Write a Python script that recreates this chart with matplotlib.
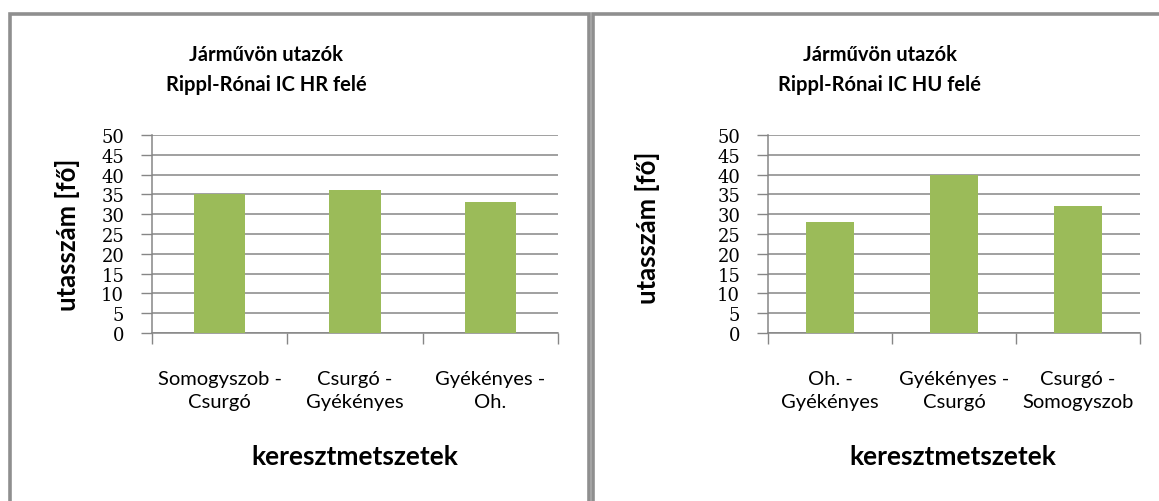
import matplotlib.pyplot as plt
from matplotlib.patches import Rectangle

W, H = 1159, 502

title_line1 = 'Járművön utazók'
left_title2 = 'Rippl-Rónai IC HR felé'
right_title2 = 'Rippl-Rónai IC HU felé'
left_cats = ['Somogyszob -\nCsurgó', 'Csurgó -\nGyékényes', 'Gyékényes -\nOh.']
left_vals = [35, 36, 33]
right_cats = ['Oh. -\nGyékényes', 'Gyékényes -\nCsurgó', 'Csurgó -\nSomogyszob']
right_vals = [28, 40, 32]
y_ticks = list(range(0, 55, 5))
y_label = 'utasszám [fő]'
x_label = 'keresztmetszetek'

BAR = '#9bbb59'
GRID = '#868686'
BORDER = '#8f8f8f'
SANS = 'Lato'
SERIF = 'DejaVu Serif'


def fx(px):
    return px / W


def fy(py):
    return 1 - py / H


def draw_panel(fig, box, ax_x0, ax_x1, cats, vals, title2, title_cx, xlab_cx, ylab_x, ylab_cy):
    # chart area frame
    bx0, by0, bx1, by1 = box
    fig.patches.append(Rectangle((fx(bx0), fy(by1)), fx(bx1 - bx0), (by1 - by0) / H,
                                 transform=fig.transFigure, fill=False,
                                 edgecolor=BORDER, linewidth=2.6, zorder=0))

    ax = fig.add_axes([fx(ax_x0), fy(334), fx(ax_x1 - ax_x0), (334 - 136) / H])
    x = list(range(len(cats)))
    ax.bar(x, vals, width=0.38, color=BAR, zorder=3)
    ax.set_xlim(-0.5, len(cats) - 0.5)
    ax.set_ylim(0, 50)
    ax.set_yticks(y_ticks)
    ax.set_yticklabels([str(t) for t in y_ticks], fontfamily=SERIF, fontsize=13)
    ax.tick_params(axis='y', length=8, width=1, color=GRID, pad=12)
    ax.yaxis.grid(True, color=GRID, linewidth=1.1)
    ax.set_axisbelow(True)

    # category boundaries get the tick marks, names sit in between
    ax.set_xticks([i - 0.5 for i in range(len(cats) + 1)])
    ax.set_xticklabels([])
    ax.tick_params(axis='x', which='major', length=8, width=1, color=GRID)
    ax.set_xticks(x, minor=True)
    ax.set_xticklabels(cats, minor=True, fontfamily=SANS, fontsize=14.5, linespacing=1.4)
    ax.tick_params(axis='x', which='minor', length=0, pad=27)

    for s in ['top', 'right']:
        ax.spines[s].set_visible(False)
    for s in ['left', 'bottom']:
        ax.spines[s].set_color(GRID)
        ax.spines[s].set_linewidth(1.1)

    fig.text(fx(title_cx), fy(55), title_line1, ha='center', va='center',
             fontfamily=SANS, fontsize=14.5, fontweight='bold')
    fig.text(fx(title_cx), fy(85), title2, ha='center', va='center',
             fontfamily=SANS, fontsize=14.5, fontweight='bold')
    fig.text(fx(xlab_cx), fy(457), x_label, ha='center', va='center',
             fontfamily=SANS, fontsize=19, fontweight='bold')
    fig.text(fx(ylab_x), fy(ylab_cy), y_label, ha='center', va='center', rotation=90,
             fontfamily=SANS, fontsize=18.5, fontweight='bold')
    return ax


fig = plt.figure(figsize=(W / 100, H / 100), dpi=100)
draw_panel(fig, (10, 15, 589, 520), 152, 558, left_cats, left_vals, left_title2, 266, 355, 68, 235)
draw_panel(fig, (593, 15, 1175, 520), 768, 1140, right_cats, right_vals, right_title2, 880, 953, 648, 228)
fig.savefig('out.png', dpi=100)
